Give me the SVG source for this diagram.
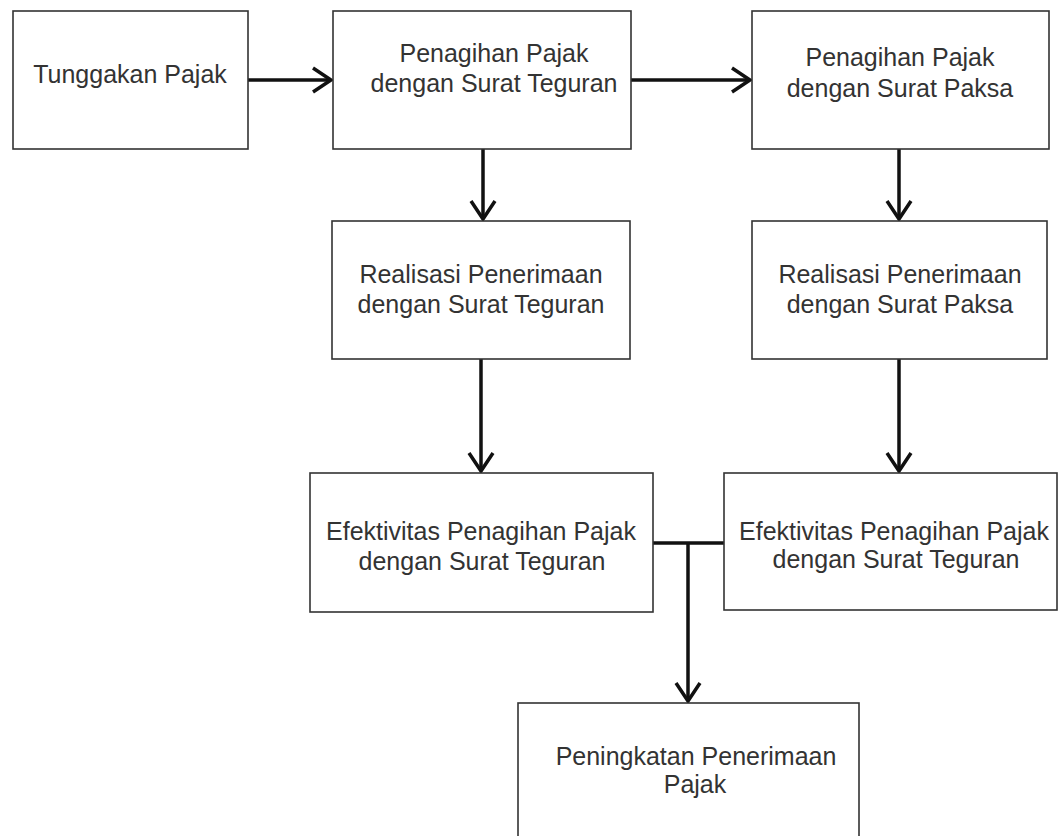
<svg xmlns="http://www.w3.org/2000/svg" width="1059" height="836" viewBox="0 0 1059 836">
<style>
.box{fill:#fff;stroke:#333;stroke-width:1.6}
.t{font-family:"Liberation Sans",Arial,sans-serif;font-size:25px;fill:#333;text-anchor:middle}
.c{fill:none;stroke:#111;stroke-width:3.5}
</style>
<defs>
<marker id="ah" markerUnits="userSpaceOnUse" markerWidth="30" markerHeight="30" viewBox="-22 -15 26 30" refX="0" refY="0" orient="auto">
<path d="M-18,-12 L0,0 L-18,12" fill="none" stroke="#111" stroke-width="3.5"/>
</marker>
</defs>
<rect width="1059" height="836" fill="#fff"/>
<g id="connectors">
<line class="c" x1="248" y1="80" x2="331" y2="80" marker-end="url(#ah)"/>
<line class="c" x1="631" y1="80" x2="750" y2="80" marker-end="url(#ah)"/>
<line class="c" x1="483" y1="149" x2="483" y2="219" marker-end="url(#ah)"/>
<line class="c" x1="899" y1="149" x2="899" y2="219" marker-end="url(#ah)"/>
<line class="c" x1="481" y1="359" x2="481" y2="471" marker-end="url(#ah)"/>
<line class="c" x1="899" y1="359" x2="899" y2="471" marker-end="url(#ah)"/>
<line class="c" x1="653" y1="543" x2="724" y2="543" stroke-width="5"/>
<line class="c" x1="688" y1="543" x2="688" y2="701" marker-end="url(#ah)"/>
</g>
<g id="n1"><rect class="box" x="13" y="11" width="235" height="138"/><text class="t" x="130" y="83">Tunggakan Pajak</text></g>
<g id="n2"><rect class="box" x="333" y="11" width="298" height="138"/><text class="t" x="494" y="62">Penagihan Pajak</text><text class="t" x="494" y="92">dengan Surat Teguran</text></g>
<g id="n3"><rect class="box" x="752" y="11" width="297" height="138"/><text class="t" x="900" y="66">Penagihan Pajak</text><text class="t" x="900" y="97">dengan Surat Paksa</text></g>
<g id="n4"><rect class="box" x="332" y="221" width="298" height="138"/><text class="t" x="481" y="283">Realisasi Penerimaan</text><text class="t" x="481" y="313">dengan Surat Teguran</text></g>
<g id="n5"><rect class="box" x="752" y="221" width="295" height="138"/><text class="t" x="900" y="283">Realisasi Penerimaan</text><text class="t" x="900" y="313">dengan Surat Paksa</text></g>
<g id="n6"><rect class="box" x="310" y="473" width="343" height="139"/><text class="t" x="481" y="540">Efektivitas Penagihan Pajak</text><text class="t" x="482" y="570">dengan Surat Teguran</text></g>
<g id="n7"><rect class="box" x="724" y="473" width="333" height="137"/><text class="t" x="894" y="540">Efektivitas Penagihan Pajak</text><text class="t" x="896" y="568">dengan Surat Teguran</text></g>
<g id="n8"><rect class="box" x="518" y="703" width="341" height="150"/><text class="t" x="696" y="765">Peningkatan Penerimaan</text><text class="t" x="695" y="793">Pajak</text></g>
</svg>
